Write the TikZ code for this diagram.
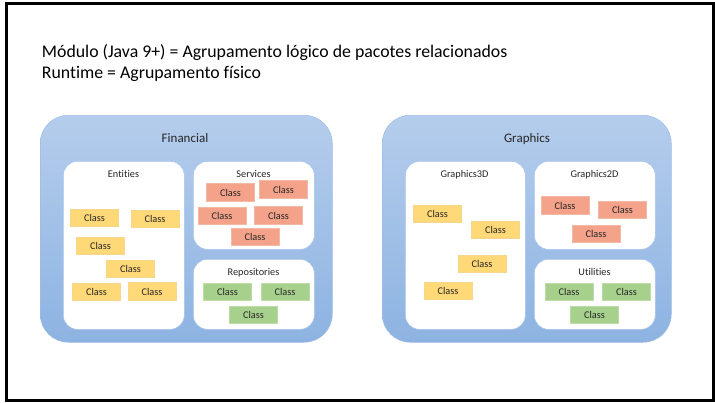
\documentclass[tikz,border=0pt]{standalone}
\usepackage{fontspec}
\setmainfont{Carlito}[Ligatures={NoCommon}]
\usetikzlibrary{shadings}
\definecolor{outerTop}{HTML}{B5CDEC}
\definecolor{outerBot}{HTML}{8DB3E2}
\definecolor{outerDraw}{HTML}{9CBDE6}
\definecolor{pkgDraw}{HTML}{A9C5EA}
\definecolor{txt}{HTML}{262626}
\definecolor{yfill}{HTML}{FFD878}
\definecolor{ydraw}{HTML}{F7D68C}
\definecolor{rfill}{HTML}{F4A28A}
\definecolor{rdraw}{HTML}{F2B9A5}
\definecolor{gfill}{HTML}{A8D08D}
\definecolor{gdraw}{HTML}{BCDCA8}
\begin{document}
\begin{tikzpicture}[x=1pt,y=-1pt,
  frame/.style={draw=black, line width=3pt},
  module/.style={rounded corners=28pt, top color=outerTop, bottom color=outerBot, draw=outerDraw, line width=0.5pt, anchor=north west, inner sep=0pt},
  pkg/.style={rounded corners=14pt, fill=white, draw=pkgDraw, line width=0.6pt, anchor=north west, inner sep=0pt},
  modlbl/.style={anchor=base, font=\fontsize{13}{15}\selectfont, text=txt, inner sep=0pt},
  pkglbl/.style={anchor=base, font=\fontsize{10.3}{12}\selectfont, text=txt, inner sep=0pt},
  cls/.style={minimum width=48pt, minimum height=17.5pt, inner sep=0pt, font=\fontsize{10.3}{12}\selectfont, text=txt, line width=0.6pt},
  ycls/.style={cls, fill=yfill, draw=ydraw},
  rcls/.style={cls, fill=rfill, draw=rdraw},
  gcls/.style={cls, fill=gfill, draw=gdraw},
  titletext/.style={anchor=base west, font=\fontsize{17.8}{20.5}\selectfont, text=black, inner sep=0pt}
]
\useasboundingbox (0,0) rectangle (715,402);
\node[frame, minimum width=707pt, minimum height=396.5pt, anchor=north west, inner sep=0pt] (frm) at (4.5,2) {};

\node[titletext] (t1) at (41.7,57.5) {Módulo (Java 9+) = Agrupamento lógico de pacotes relacionados};
\node[titletext] (t2) at (41.7,78) {Runtime = Agrupamento físico};

% Financial module
\node[module, minimum width=292pt, minimum height=227pt] (fin) at (40,115) {};
\node[modlbl] (finL) at (185,142) {Financial};
\node[pkg, minimum width=121pt, minimum height=168pt] (ent) at (63,161) {};
\node[pkglbl] (entL) at (123.5,177.5) {Entities};
\node[pkg, minimum width=121pt, minimum height=88pt] (srv) at (193,161) {};
\node[pkglbl] (srvL) at (253.5,177) {Services};
\node[pkg, minimum width=121pt, minimum height=70pt] (rep) at (193,259) {};
\node[pkglbl] (repL) at (253.5,275.5) {Repositories};

\node[ycls] (e1) at (94.5,218) {Class};
\node[ycls] (e2) at (155,219) {Class};
\node[ycls] (e3) at (100.5,246) {Class};
\node[ycls] (e4) at (130.5,269) {Class};
\node[ycls] (e5) at (96.5,292) {Class};
\node[ycls] (e6) at (152,291.5) {Class};

\node[rcls] (s1) at (230.5,192.5) {Class};
\node[rcls] (s2) at (283.5,189.5) {Class};
\node[rcls] (s3) at (222,216) {Class};
\node[rcls] (s4) at (278.5,215.5) {Class};
\node[rcls] (s5) at (255,237) {Class};

\node[gcls] (r1) at (227.5,292) {Class};
\node[gcls] (r2) at (285,292) {Class};
\node[gcls] (r3) at (253.5,315) {Class};

% Graphics module
\node[module, minimum width=289pt, minimum height=227pt] (gfx) at (382,115) {};
\node[modlbl] (gfxL) at (527,142) {Graphics};
\node[pkg, minimum width=120pt, minimum height=168pt] (g3) at (405,161) {};
\node[pkglbl] (g3L) at (464.5,177.5) {Graphics3D};
\node[pkg, minimum width=121pt, minimum height=88pt] (g2) at (534,161) {};
\node[pkglbl] (g2L) at (594.5,177) {Graphics2D};
\node[pkg, minimum width=121pt, minimum height=70pt] (ut) at (534,259) {};
\node[pkglbl] (utL) at (594.5,275.5) {Utilities};

\node[ycls] (a1) at (437.5,214) {Class};
\node[ycls] (a2) at (495.5,230) {Class};
\node[ycls] (a3) at (482,264) {Class};
\node[ycls] (a4) at (448,291) {Class};

\node[rcls] (b1) at (565,205.5) {Class};
\node[rcls] (b2) at (622.5,210) {Class};
\node[rcls] (b3) at (596,234) {Class};

\node[gcls] (u1) at (569,292) {Class};
\node[gcls] (u2) at (626.5,292) {Class};
\node[gcls] (u3) at (594.5,315) {Class};
\end{tikzpicture}
\end{document}
